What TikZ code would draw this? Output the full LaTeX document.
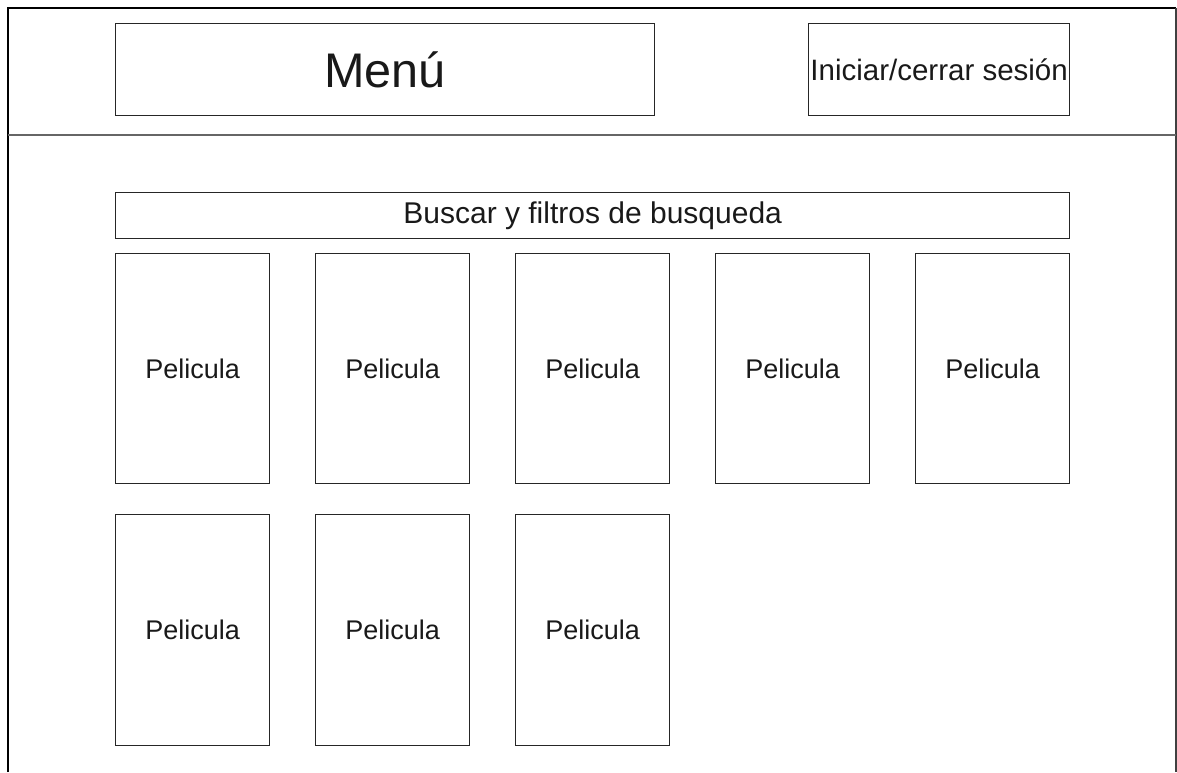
\documentclass[tikz,border=0pt]{standalone}
\usepackage{fontspec}
\setmainfont{Liberation Sans}
\begin{document}
\begin{tikzpicture}[x=1pt,y=-1pt,
  box/.style={draw=black!85,line width=1.3pt,rectangle,inner sep=0pt,anchor=north west,text=black!90},
  movie/.style={box,minimum width=154pt,minimum height=230pt,font=\fontsize{27}{30}\selectfont},
  frame/.style={line width=1.4pt,draw=black}]
\useasboundingbox (0,0) rectangle (1177,772);
\coordinate (tl) at (8,8);
\coordinate (tr) at (1176,8);
\coordinate (bl) at (8,772);
\coordinate (br) at (1176,772);
\coordinate (hl) at (8,135);
\coordinate (hr) at (1176,135);
\draw[frame] (bl) -- (tl) -- (tr);
\draw[line width=1.3pt,draw=black!75] (tr) -- (br);
\draw[line width=2pt,draw=black!60] (hl) -- (hr);
\node[box,minimum width=539pt,minimum height=92pt,font=\fontsize{48.6}{52}\selectfont] (menu) at (115,23) {Menú};
\node[box,minimum width=261pt,minimum height=92pt,font=\fontsize{29.5}{32}\selectfont] (login) at (808,23) {Iniciar/cerrar sesión};
\node[box,minimum width=954pt,minimum height=46pt,font=\fontsize{30}{32}\selectfont] (search) at (115,192) {Buscar y filtros de busqueda};
\node[movie] (p1) at (115,253) {Pelicula};
\node[movie] (p2) at (315,253) {Pelicula};
\node[movie] (p3) at (515,253) {Pelicula};
\node[movie] (p4) at (715,253) {Pelicula};
\node[movie] (p5) at (915,253) {Pelicula};
\node[movie,minimum height=231pt] (p6) at (115,514) {Pelicula};
\node[movie,minimum height=231pt] (p7) at (315,514) {Pelicula};
\node[movie,minimum height=231pt] (p8) at (515,514) {Pelicula};
\end{tikzpicture}
\end{document}
